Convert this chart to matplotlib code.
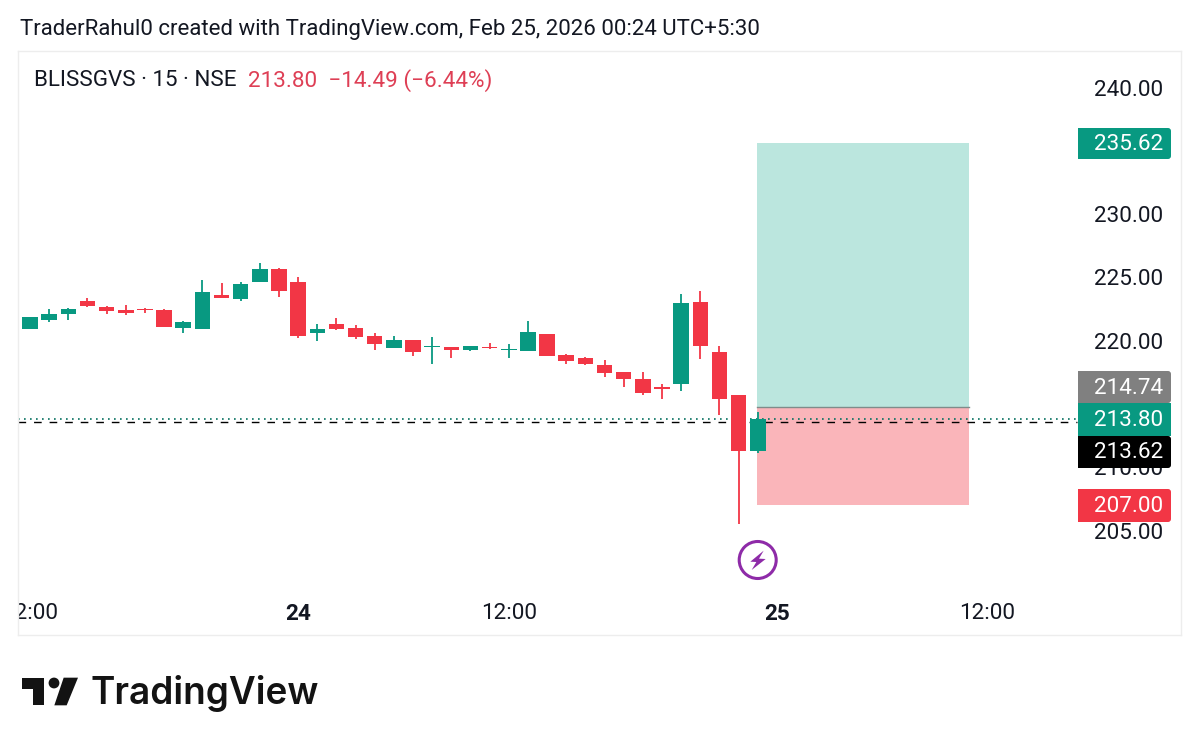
#!/usr/bin/env python

from matplotlib import pyplot as plt
from matplotlib.patches import Circle, FancyBboxPatch, Polygon, Rectangle

plt.rcParams['font.family'] = ['Roboto', 'DejaVu Sans']

GREEN = '#089981'
RED = '#F23645'
TXT = '#131722'

# candles, one every 15 min bar shown on the chart
opens = [220.96, 221.64, 222.09, 223.17, 222.64, 222.41, 222.54, 222.41, 221.01, 220.96,
         223.62, 223.33, 224.62, 225.65, 224.62, 220.59, 221.30, 221.01, 220.38, 219.43,
         220.09, 219.48, 219.48, 219.27, 219.53, 219.27, 219.19, 220.51, 218.85, 218.64,
         218.06, 217.51, 216.98, 216.32, 216.61, 223.09, 219.09, 215.74, 211.29]
highs = [221.91, 222.49, 222.59, 223.38, 222.75, 222.83, 222.57, 222.51, 221.54, 224.80,
         224.57, 224.62, 226.12, 225.75, 225.07, 221.33, 221.80, 221.22, 220.61, 220.38,
         220.09, 220.27, 219.53, 219.61, 219.82, 219.77, 221.56, 220.51, 218.98, 218.69,
         218.48, 217.51, 217.51, 216.59, 223.72, 223.93, 219.59, 215.74, 214.37]
lows = [220.96, 221.51, 221.64, 222.64, 222.14, 222.04, 222.20, 221.09, 220.62, 220.91,
        223.41, 223.14, 224.62, 223.49, 220.22, 219.98, 220.85, 220.11, 219.30, 219.43,
        218.82, 218.19, 218.64, 219.19, 219.38, 218.64, 219.19, 218.82, 218.14, 218.09,
        217.16, 216.37, 215.72, 215.37, 216.06, 218.53, 214.16, 205.55, 211.16]
closes = [221.91, 222.14, 222.49, 222.78, 222.38, 222.20, 222.43, 221.09, 221.46, 223.83,
          223.41, 224.46, 225.70, 223.91, 220.38, 220.93, 220.93, 220.30, 219.72, 220.09,
          219.11, 219.59, 219.27, 219.59, 219.43, 219.38, 220.72, 218.82, 218.38, 218.19,
          217.45, 216.95, 215.87, 216.22, 222.98, 219.56, 215.43, 211.29, 213.80]

y_ticks = [205, 210, 215, 220, 225, 230, 235, 240]
y_hidden = [215, 235]
x_ticks = [0, 14, 25, 39, 50]
x_labels = ['12:00', '24', '12:00', '25', '12:00']
x_bold = ['24', '25']

# long position tool
pos_start, pos_end = 37.96, 49.02
target, entry, stop = 235.62, 214.74, 207.00
last_price, pre_price = 213.80, 213.62

fig = plt.figure(figsize=(12, 7.49), dpi=100, facecolor='white')

# panel spans 18..1181 px across, 51..635 px down
ax = fig.add_axes([18/1200, 1-635/749, (1181-18)/1200, (635-51)/749])
ax.set_xlim(-0.627, 60.1)
ax.set_ylim(196.76, 242.89)
for s in ax.spines.values():
    s.set_color('#EDEDED')
    s.set_linewidth(1)

ax.add_patch(Rectangle((pos_start, entry), pos_end-pos_start, target-entry, fc='#BBE6DE', ec='none', zorder=1))
ax.add_patch(Rectangle((pos_start, stop), pos_end-pos_start, entry-stop, fc='#FAB5BA', ec='none', zorder=1))
ax.plot([pos_start, pos_end], [entry, entry], color='#7F8C8A', lw=1.0, zorder=1.5)

# price lines stop at the tags
ax.axhline(pre_price, xmax=0.911, color='black', lw=1.0, ls=(0, (5.5, 5.7)), zorder=1.6)
ax.axhline(last_price, xmax=0.911, color='#06705F', lw=1.2, ls=(0, (1, 2.6)), zorder=1.7)

for i, (o, h, l, c) in enumerate(zip(opens, highs, lows, closes)):
    col = GREEN if c >= o else RED
    ax.plot([i, i], [l, h], color=col, lw=1.3, solid_capstyle='butt', zorder=3)
    ax.add_patch(Rectangle((i-0.405, min(o, c)), 0.81, max(abs(c-o), 0.08), fc=col, ec='none', zorder=3.1))

ax.set_xticks(x_ticks)
ax.set_xticklabels(x_labels)
ax.set_yticks([t for t in y_ticks if t not in y_hidden])
ax.set_yticklabels(['%.2f' % t for t in y_ticks if t not in y_hidden])
ax.tick_params(axis='y', length=0, labelleft=False, labelright=True, pad=-13, labelsize=16.2, labelcolor=TXT)
ax.tick_params(axis='x', length=0, pad=-23, labelsize=16.2, labelcolor=TXT)
for t in ax.get_yticklabels():
    t.set_ha('right')
for t in ax.get_xticklabels():
    t.set_clip_box(ax.bbox)
    t.set_clip_on(True)
    if t.get_text() in x_bold:
        t.set_fontweight('bold')

# overlay in image pixels for the header, price tags and logos
ov = fig.add_axes([0, 0, 1, 1], facecolor='none')
ov.set_xlim(0, 1200)
ov.set_ylim(749, 0)
ov.axis('off')

ov.text(20, 29, 'TraderRahul0 created with TradingView.com, Feb 25, 2026 00:24 UTC+5:30',
        fontsize=16.05, color=TXT, va='center', ha='left')
ov.text(34, 80.5, 'BLISSGVS · 15 · NSE', fontsize=16.15, color=TXT, va='center', ha='left')
ov.text(248, 80.5, '213.80  −14.49 (−6.44%)', fontsize=16.2, color='#DE3F55', va='center', ha='left')

tag_text = ['235.62', '214.74', '213.62', '207.00', '213.80']
tag_col = [GREEN, '#808080', 'black', RED, GREEN]
tag_top = [128, 371, 436, 489, 403]
tag_bot = [159, 403, 468, 522, 436]
for txt, col, t0, t1 in zip(tag_text, tag_col, tag_top, tag_bot):
    ov.add_patch(FancyBboxPatch((1078, t0), 93, t1-t0, boxstyle='round,pad=0,rounding_size=3', fc=col, ec='none'))
    ov.add_patch(Rectangle((1078, t0), 40, t1-t0, fc=col, ec='none'))
    if txt == '213.80':
        ov.add_patch(Rectangle((1078, t0), 93, t1-t0, fc=col, ec='none'))
    ov.text(1163, (t0+t1)/2+1, txt, color='white', fontsize=16.2, ha='right', va='center', zorder=5)

# lightning marker
ov.add_patch(Circle((757.7, 560), 18.5, fc='white', ec='#8E2BA8', lw=2.2))
bolt = [(95, 47), (55, 80), (73, 81), (59, 105), (101, 72), (81, 71)]
ov.add_patch(Polygon([(732+x/3, 535+y/3) for x, y in bolt], closed=True, fc='#8E2BA8', ec='none'))

# TradingView logo
logo = '#131313'
t_mark = [(67, 83), (133, 83), (133, 166), (100, 166), (100, 116), (67, 116)]
slash = [(191, 83), (234, 83), (200, 166), (163, 166)]
ov.add_patch(Polygon([(x/3, 650+y/3) for x, y in t_mark], closed=True, fc=logo, ec='none'))
ov.add_patch(Polygon([(x/3, 650+y/3) for x, y in slash], closed=True, fc=logo, ec='none'))
ov.add_patch(Circle((162/3, 650+99/3), 5.4, fc=logo, ec='none'))
ov.text(91, 694, 'TradingView', fontsize=26.6, fontweight='semibold', color=logo, family=['Inter', 'DejaVu Sans'],
        va='center', ha='left')

plt.savefig('out.png', dpi=100)
